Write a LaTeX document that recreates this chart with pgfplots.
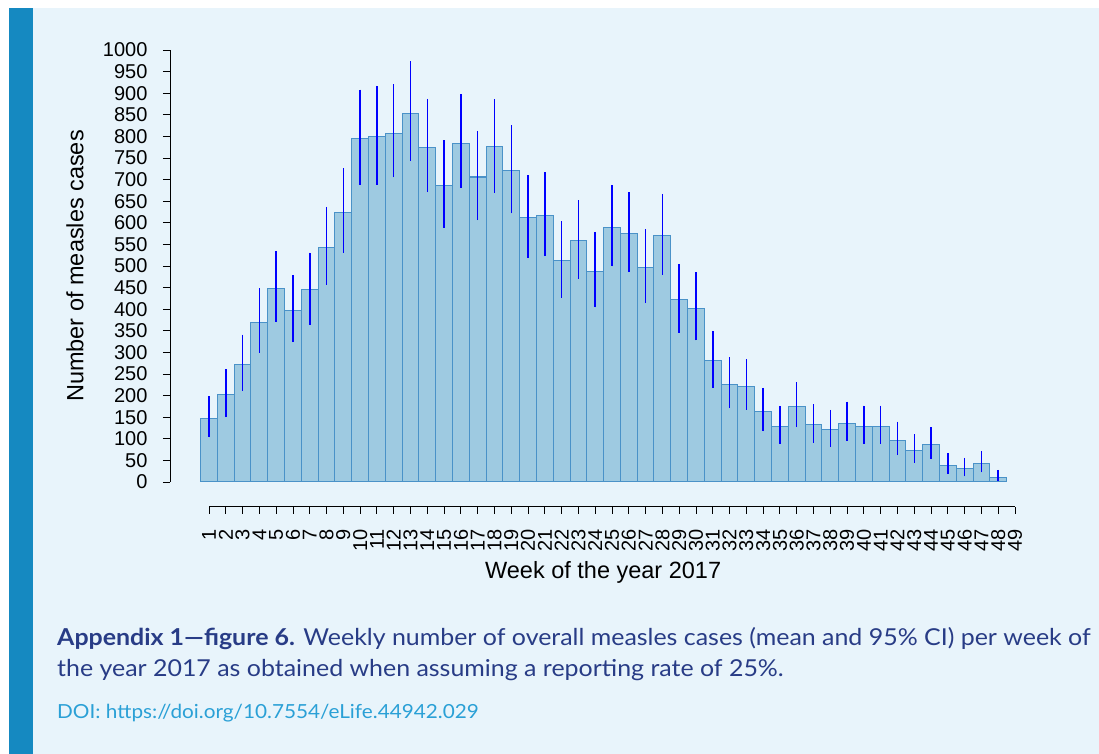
\documentclass[border=0pt]{standalone}
\usepackage{pgfplots}
\usepackage{pgfplotstable}
\pgfplotsset{compat=1.18}
\usepackage{fontspec}
\setmainfont{Liberation Sans}
\newfontfamily\capfont[FakeStretch=1.07]{Lato}
\definecolor{panel}{HTML}{E8F4FB}
\definecolor{stripe}{HTML}{1589C1}
\definecolor{barfill}{HTML}{9ECAE1}
\definecolor{baredge}{HTML}{4A92C8}
\definecolor{capnavy}{HTML}{283C86}
\definecolor{doiblue}{HTML}{2AA0D6}

% week, mean, lower and upper 95% bounds
\pgfplotstableread{
x y lo hi
1 147 103 199
2 202 150 261
3 273 211 341
4 370 299 449
5 448 370 535
6 397 324 478
7 446 364 531
8 543 457 637
9 624 531 726
10 794 688 908
11 799 688 917
12 807 705 921
13 854 744 974
14 775 671 887
15 686 588 791
16 784 681 897
17 706 606 813
18 776 670 886
19 721 622 826
20 613 518 710
21 617 523 717
22 512 427 604
23 559 471 652
24 488 404 579
25 589 499 687
26 575 486 671
27 496 414 585
28 570 480 667
29 422 346 505
30 402 328 485
31 282 218 350
32 226 171 289
33 222 167 284
34 164 118 218
35 129 89 176
36 175 127 231
37 133 91 180
38 121 81 167
39 136 95 186
40 129 88 177
41 129 88 177
42 97 62 140
43 74 44 110
44 86 53 127
45 39 19 66
46 32 13 56
47 43 22 72
48 11 2 28
}\weekdata

\begin{document}
\begin{tikzpicture}[x=1pt,y=1pt]
\useasboundingbox (0,0) rectangle (1099,754);
\fill[white] (0,0) rectangle (1099,754);
\fill[panel] (33,0) rectangle (1099,746);
\fill[stripe] (9,0) rectangle (33,746);

\begin{axis}[
  at={(209pt,272pt)}, anchor=south west,
  scale only axis, width=806pt, height=432pt,
  xmin=1, xmax=49, ymin=0, ymax=1000,
  clip=false,
  axis x line*=bottom, axis y line*=left,
  axis x line shift=24.7pt, axis y line shift=39pt,
  axis line style={black, line width=0.9pt},
  tick style={black, line width=0.9pt},
  tick align=outside, major tick length=7pt,
  xtick={1,...,49}, ytick={0,50,...,1000},
  xticklabel shift=12pt, yticklabel shift=12pt,
  /pgf/number format/assume math mode=true,
  /pgf/number format/1000 sep={},
  ticklabel style={font=\fontsize{20}{20}\selectfont},
  xticklabel style={rotate=90, anchor=east},
  label style={font=\fontsize{23.5}{24}\selectfont},
  xlabel={Week of the year 2017},
  ylabel={Number of measles cases},
  xlabel style={at={(axis description cs:0.489,-0.2083)}, anchor=center},
  ylabel style={at={(axis description cs:-0.1663,0.5)}, anchor=center},
]
\addplot[ybar, bar width=1, bar shift=0pt, fill=barfill, draw=baredge, line width=1pt,
  error bars/.cd, y dir=both, y explicit, error mark=none,
  error bar style={color=blue, line width=1.5pt}]
  table[x=x, y=y, y error plus expr=\thisrow{hi}-\thisrow{y},
        y error minus expr=\thisrow{y}-\thisrow{lo}] {\weekdata};
\end{axis}

\node[anchor=base west, text=capnavy, font=\capfont\fontsize{23.3}{23.3}\selectfont, inner sep=0]
  at (57,754-646) {\textbf{Appendix 1—figure 6.} Weekly number of overall measles cases (mean and 95\% CI) per week of};
\node[anchor=base west, text=capnavy, font=\capfont\fontsize{23.3}{23.3}\selectfont, inner sep=0]
  at (57,754-677) {the year 2017 as obtained when assuming a reporting rate of 25\%.};
\node[anchor=base west, text=doiblue, font=\capfont\fontsize{19.4}{19.4}\selectfont, inner sep=0]
  at (57,754-719) {DOI: https://doi.org/10.7554/eLife.44942.029};
\end{tikzpicture}
\end{document}
